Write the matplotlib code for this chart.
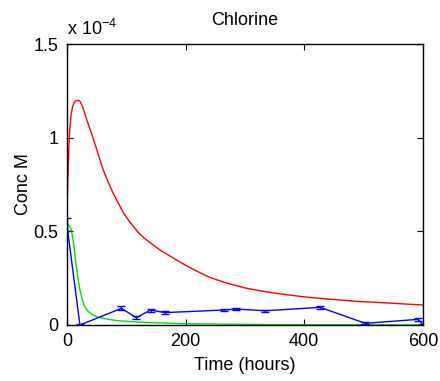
import matplotlib
matplotlib.use('Agg')
import matplotlib.pyplot as plt
from matplotlib.ticker import FuncFormatter
import numpy as np

# values in units of 1e-4 M
red_t = [0, 1, 2, 3.5, 5, 7, 9.5, 12, 15, 19, 23, 27, 32, 39, 44, 50, 55, 61, 70,
         77, 84, 95, 106, 120, 130, 140, 157, 179, 195, 213, 240, 269, 300,
         325, 350, 382, 410, 438, 470, 494, 520, 550, 575, 600]
red_y = [0.57, 0.70, 0.82, 0.96, 1.05, 1.12, 1.165, 1.185, 1.197, 1.20, 1.19,
         1.16, 1.11, 1.045, 1.0, 0.94, 0.89, 0.83, 0.76, 0.71, 0.667, 0.60,
         0.55, 0.495, 0.465, 0.44, 0.40, 0.358, 0.328, 0.297, 0.255, 0.224,
         0.198, 0.183, 0.17, 0.157, 0.147, 0.139, 0.131, 0.125, 0.121, 0.116,
         0.111, 0.107]

green_t = [0, 5, 8, 10.6, 13, 16, 19, 22, 26, 30, 36, 44, 52, 61, 72, 89, 129,
           196, 342, 450, 600]
green_y = [0.543, 0.525, 0.50, 0.45, 0.39, 0.31, 0.245, 0.187, 0.135, 0.098,
           0.072, 0.053, 0.043, 0.036, 0.029, 0.022, 0.014, 0.007, 0.002,
           0.001, 0.0005]

blue_t = [0, 22, 92, 117, 141, 165, 264, 285, 334, 427, 503, 592, 600]
blue_y = [0.537, 0.0, 0.089, 0.039, 0.080, 0.066, 0.080, 0.085, 0.076, 0.094,
          0.009, 0.030, 0.003]
blue_err = [0.033, 0.004, 0.010, 0.008, 0.008, 0.007, 0.006, 0.007, 0.006,
            0.006, 0.006, 0.010, 0.004]

scale = 1e-4

plt.rcParams['font.family'] = ['Liberation Sans', 'DejaVu Sans']
plt.rcParams['font.size'] = 13
plt.rcParams['mathtext.fontset'] = 'custom'
plt.rcParams['mathtext.rm'] = 'Liberation Sans'
plt.rcParams['mathtext.it'] = 'Liberation Sans'
plt.rcParams['mathtext.bf'] = 'Liberation Sans'

fig = plt.figure(figsize=(4.4, 3.81), dpi=100)
ax = fig.add_axes([0.152, 0.147, 0.809, 0.7375])

ax.plot(red_t, np.array(red_y) * scale, color='#ff0000', lw=1.0)
ax.plot(green_t, np.array(green_y) * scale, color='#00e000', lw=1.0)
ax.errorbar(blue_t, np.array(blue_y) * scale, yerr=np.array(blue_err) * scale,
            color='#0000ff', lw=1.0, elinewidth=1.0, capsize=3, capthick=1.0)

ax.set_xlim(0, 600)
ax.set_ylim(0, 1.5e-4)
ax.set_xticks([0, 200, 400, 600])
ax.set_yticks([0, 0.5e-4, 1e-4, 1.5e-4])
ax.yaxis.set_major_formatter(FuncFormatter(lambda v, p: '%g' % round(v / scale, 3)))
ax.tick_params(direction='in', length=4, width=0.8, top=True, right=True,
               labelsize=13, pad=6)
for s in ax.spines.values():
    s.set_linewidth(1.0)

ax.text(0.0, 1.032, r'x 10$^{-4}$', transform=ax.transAxes, ha='left',
        va='baseline', fontsize=13)
ax.set_title('Chlorine', fontsize=13, pad=14)
ax.set_xlabel('Time (hours)', fontsize=13, labelpad=5)
ax.set_ylabel('Conc M', fontsize=13, labelpad=1)

plt.savefig('out.png', dpi=100)
